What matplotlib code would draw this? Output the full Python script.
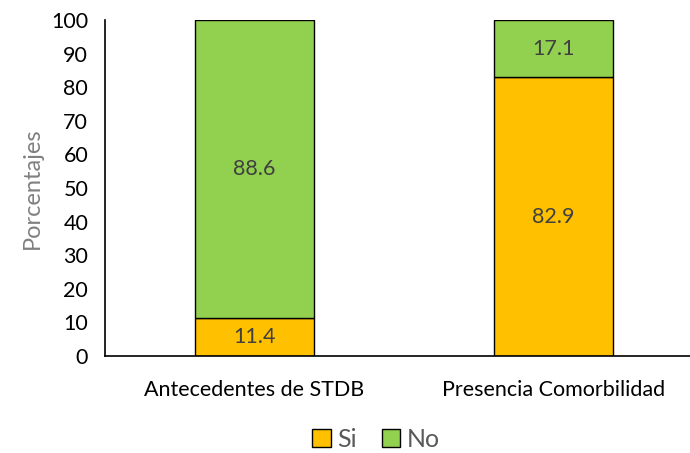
import numpy as np
import matplotlib
matplotlib.use('Agg')
import matplotlib.pyplot as plt

categorias = ['Antecedentes de STDB', 'Presencia Comorbilidad']
si = [11.4, 82.9]
no = [88.6, 17.1]

plt.rcParams['font.family'] = ['Lato', 'DejaVu Sans']

fig = plt.figure(figsize=(6.9, 4.53), dpi=100)
ax = fig.add_axes([0.152, 0.214, 0.848, 0.742])

x = np.arange(len(categorias))
b1 = ax.bar(x, si, width=0.4, color='#FFC000', edgecolor='black', linewidth=1, label='Si')
b2 = ax.bar(x, no, width=0.4, bottom=si, color='#92D050', edgecolor='black', linewidth=1, label='No')

for i in range(len(x)):
    ax.text(x[i], si[i] / 2, f'{si[i]:.1f}', ha='center', va='center', fontsize=15.5, color='#404040')
    ax.text(x[i], si[i] + no[i] / 2, f'{no[i]:.1f}', ha='center', va='center', fontsize=15.5, color='#404040')

ax.set_xlim(-0.5, 1.456)
ax.set_ylim(0, 100)
ax.set_yticks(np.arange(0, 101, 10))
ax.set_xticks(x)
ax.set_xticklabels(categorias, fontsize=15.5)
ax.tick_params(axis='y', labelsize=15.5, length=0, pad=12)
ax.tick_params(axis='x', length=0, pad=17)
ax.spines['top'].set_visible(False)
ax.spines['right'].set_visible(False)
ax.spines['left'].set_linewidth(1.2)
ax.spines['bottom'].set_linewidth(1.2)
ax.set_ylabel('Porcentajes', fontsize=17, color='#808080', labelpad=6)

leg = fig.legend(handles=[b1, b2], loc='lower center', bbox_to_anchor=(0.545, -0.045), ncol=2, frameon=False,
                 fontsize=18, handlelength=0.75, handleheight=0.75, handletextpad=0.25, columnspacing=1.0)
for t in leg.get_texts():
    t.set_color('#595959')

fig.savefig('out.png', dpi=100)
